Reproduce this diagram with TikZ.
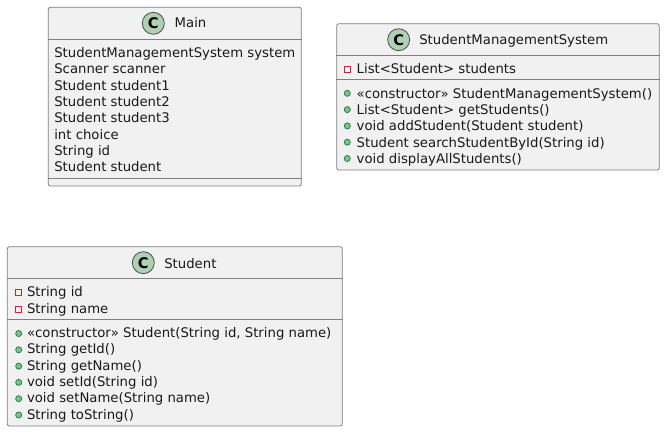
\documentclass[tikz,border=0pt]{standalone}
\usepackage{fontspec}
\setmainfont{DejaVu Sans}
\definecolor{boxfill}{HTML}{F1F1F1}
\definecolor{boxline}{HTML}{808080}
\definecolor{spotfill}{HTML}{ADD1B2}
\definecolor{privline}{HTML}{C82930}
\definecolor{pubfill}{HTML}{84BE84}
\definecolor{publine}{HTML}{038048}
\tikzset{
  classbox/.style={draw=boxline,fill=boxfill,rounded corners=1.6pt,line width=0.6pt,inner sep=0pt},
  sepline/.style={draw=boxline,line width=0.6pt},
  row/.style={anchor=base west,inner sep=0pt,outer sep=0pt,text=black!90,font=\fontsize{9.94}{11}\selectfont},
  title/.style={row},
  spot/.style={circle,draw=black!70,fill=spotfill,line width=0.6pt,minimum size=16.5pt,inner sep=0pt,font=\fontsize{11}{12}\bfseries\selectfont},
  privicon/.style={rectangle,draw=privline,line width=0.6pt,minimum size=4.6pt,inner sep=0pt},
  pubicon/.style={circle,draw=publine,fill=pubfill,line width=0.5pt,minimum size=4.6pt,inner sep=0pt},
}
\begin{document}
\begin{tikzpicture}[x=0.75pt,y=-0.75pt]
\useasboundingbox[fill=white] (0,0) rectangle (665,432);
% Main
\node[classbox,minimum width=253*0.75pt,minimum height=178.7*0.75pt] (mainbox) at (174.8,186-89.35) {};
\draw[sepline] (mainbox.west |- 0,39.3) -- (mainbox.east |- 0,39.3);
\draw[sepline] (mainbox.west |- 0,178.3) -- (mainbox.east |- 0,178.3);
\node[spot] (mainspot) at (153.3,23.3) {C};
\node[title] (maintitle) at (174.7,27.7) {Main};
\node[row] (m1) at (54.3,57.7) {StudentManagementSystem system};
\node[row] (m2) at (54.3,74) {Scanner scanner};
\node[row] (m3) at (54.3,90.3) {Student student1};
\node[row] (m4) at (54.3,106.6) {Student student2};
\node[row] (m5) at (54.3,122.9) {Student student3};
\node[row] (m6) at (54.3,139.2) {int choice};
\node[row] (m7) at (54.3,155.5) {String id};
\node[row] (m8) at (54.3,171.8) {Student student};
% StudentManagementSystem
\node[classbox,minimum width=322.6*0.75pt,minimum height=146.3*0.75pt] (smsbox) at (498,96.85) {};
\draw[sepline] (smsbox.west |- 0,55.7) -- (smsbox.east |- 0,55.7);
\draw[sepline] (smsbox.west |- 0,79.3) -- (smsbox.east |- 0,79.3);
\node[spot] (smsspot) at (398.7,39.7) {C};
\node[title] (smstitle) at (419.3,45) {StudentManagementSystem};
\node[privicon] (si1) at (347.3,69) {};
\node[row] (s1) at (356.7,73.3) {List<Student> students};
\node[pubicon] (si2) at (347.3,93.3) {};
\node[row] (s2) at (356.7,98.3) {«constructor» StudentManagementSystem()};
\node[pubicon] (si3) at (347.3,109.6) {};
\node[row] (s3) at (356.7,114.6) {List<Student> getStudents()};
\node[pubicon] (si4) at (347.3,125.9) {};
\node[row] (s4) at (356.7,130.9) {void addStudent(Student student)};
\node[pubicon] (si5) at (347.3,142.2) {};
\node[row] (s5) at (356.7,147.2) {Student searchStudentById(String id)};
\node[pubicon] (si6) at (347.3,158.5) {};
\node[row] (s6) at (356.7,163.5) {void displayAllStudents()};
% Student
\node[classbox,minimum width=335*0.75pt,minimum height=179.3*0.75pt] (stubox) at (174.8,336.35) {};
\draw[sepline] (stubox.west |- 0,278.3) -- (stubox.east |- 0,278.3);
\draw[sepline] (stubox.west |- 0,319.7) -- (stubox.east |- 0,319.7);
\node[spot] (stuspot) at (143.3,262.7) {C};
\node[title] (stutitle) at (164.3,268) {Student};
\node[privicon] (ti1) at (18.7,292.3) {};
\node[row] (t1) at (27,296) {String id};
\node[privicon] (ti2) at (18.7,309) {};
\node[row] (t2) at (27,313.3) {String name};
\node[pubicon] (ti3) at (18.7,333.5) {};
\node[row] (t3) at (27,337.5) {«constructor» Student(String id, String name)};
\node[pubicon] (ti4) at (18.7,349.8) {};
\node[row] (t4) at (27,353.8) {String getId()};
\node[pubicon] (ti5) at (18.7,366.1) {};
\node[row] (t5) at (27,370.1) {String getName()};
\node[pubicon] (ti6) at (18.7,382.4) {};
\node[row] (t6) at (27,386.4) {void setId(String id)};
\node[pubicon] (ti7) at (18.7,398.7) {};
\node[row] (t7) at (27,402.7) {void setName(String name)};
\node[pubicon] (ti8) at (18.7,415) {};
\node[row] (t8) at (27,419) {String toString()};
\end{tikzpicture}
\end{document}
